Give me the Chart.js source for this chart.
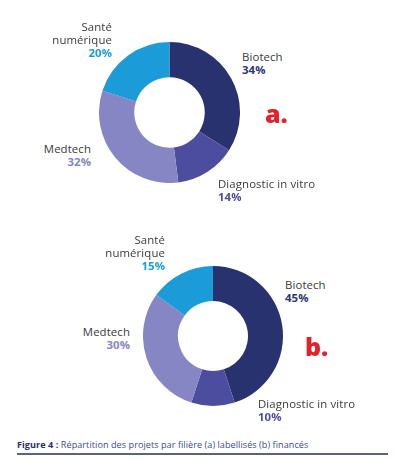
<!DOCTYPE html>
<html><head><meta charset="utf-8">
<script src="https://cdn.jsdelivr.net/npm/chart.js@4"></script>
<style>
html,body{margin:0;padding:0;background:#fff;}
#wrap{position:relative;width:396px;height:463px;overflow:hidden;font-family:"Open Sans",sans-serif;}
canvas{position:absolute;}
.lbl{position:absolute;font-size:11.4px;line-height:13px;color:#3a3a3a;white-space:nowrap;letter-spacing:0.1px;}
.r{text-align:right;}
.pct{font-weight:700;}
.tag{position:absolute;font-size:25px;font-weight:800;color:#e3222b;line-height:25px;}
#cap{position:absolute;left:17px;top:439px;font-size:9.1px;line-height:12px;color:#3e4b8c;white-space:nowrap;letter-spacing:0.05px;}
#cap b{color:#27306e;}
#rule{position:absolute;left:17px;top:453px;width:371px;height:1.5px;background:#5b6283;}
</style></head>
<body><div id="wrap">
<canvas id="ca" width="141" height="141" style="left:99px;top:42px"></canvas>
<canvas id="cb" width="140" height="140" style="left:143px;top:266px"></canvas>
<div id="labels"></div>
<div class="tag" style="left:265px;top:101px">a.</div>
<div class="tag" style="left:305px;top:334px">b.</div>
<div id="cap"><b>Figure 4 :</b> Répartition des projets par filière (a) labellisés (b) financés</div>
<div id="rule"></div>
</div>
<script>
const categories = ["Biotech", "Diagnostic in vitro", "Medtech", "Santé numérique"];
const labelLines = [["Biotech"], ["Diagnostic in vitro"], ["Medtech"], ["Santé", "numérique"]];
const valuesLabellises = [34, 14, 32, 20];
const valuesFinances = [45, 10, 30, 15];
const colors = ["#28326f", "#4d4d9f", "#8686c4", "#1b9cd8"];

function makeChart(id, values) {
  new Chart(document.getElementById(id), {
    type: 'doughnut',
    data: { labels: categories, datasets: [{ data: values, backgroundColor: colors, borderWidth: 0 }] },
    options: {
      responsive: false, animation: false, cutout: '50%',
      plugins: { legend: { display: false }, tooltip: { enabled: false } },
      layout: { padding: 0 }
    }
  });
}
makeChart('ca', valuesLabellises);
makeChart('cb', valuesFinances);

// label placement: [x, top, alignRight]
const placeA = [[242, 49.5, false], [218, 176.5, false], [91, 141.5, true], [112, 19.5, true]];
const placeB = [[285, 277.5, false], [258, 396.5, false], [130, 324.5, true], [165, 232.5, true]];
const pctColors = ["#2e3575", "#4d4d9f", "#8686c4", "#1b9cd8"];
const holder = document.getElementById('labels');
function addLabels(place, values) {
  place.forEach((p, i) => {
    const d = document.createElement('div');
    d.className = 'lbl' + (p[2] ? ' r' : '');
    d.style.top = p[1] + 'px';
    if (p[2]) d.style.right = (396 - p[0]) + 'px'; else d.style.left = p[0] + 'px';
    d.innerHTML = labelLines[i].join('<br>') + '<br><span class="pct" style="color:' + pctColors[i] + '">' + values[i] + '%</span>';
    holder.appendChild(d);
  });
}
addLabels(placeA, valuesLabellises);
addLabels(placeB, valuesFinances);
</script>
</body></html>
